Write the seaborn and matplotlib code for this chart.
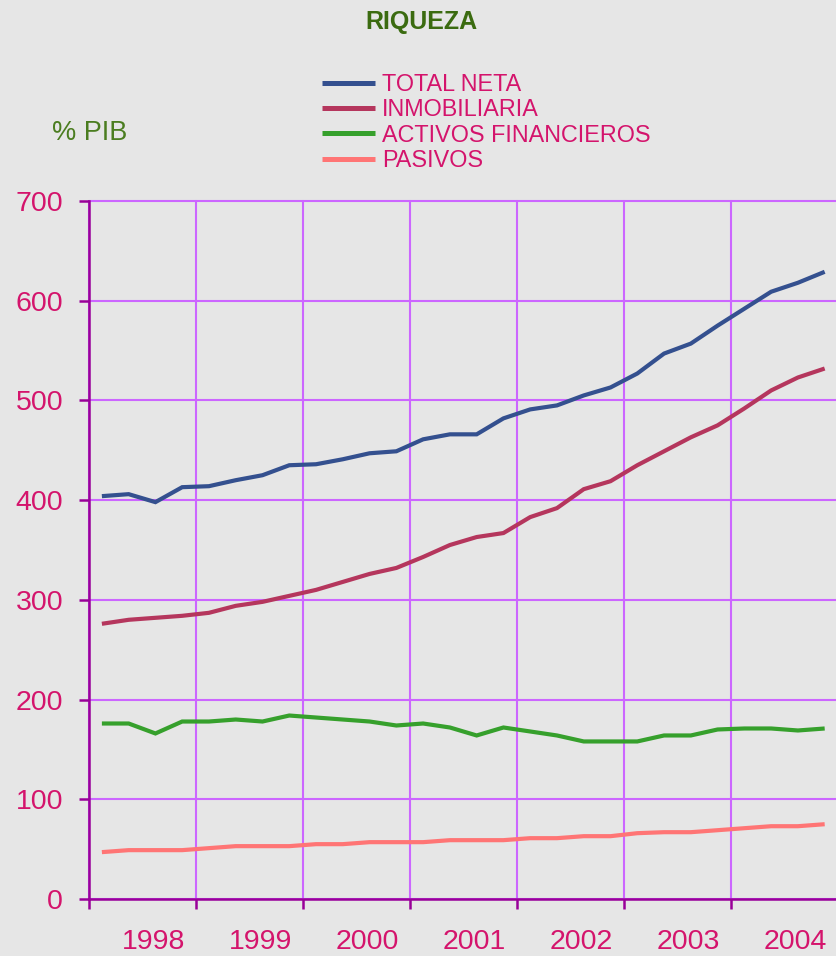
import numpy as np
import pandas as pd
import matplotlib
matplotlib.use("Agg")
import matplotlib.pyplot as plt
import seaborn as sns
from matplotlib.lines import Line2D

# Quarterly household wealth, % of GDP (1998Q1 .. 2004Q4)
years = [1998, 1999, 2000, 2001, 2002, 2003, 2004]
total_neta = [404, 406, 398, 413, 414, 420, 425, 435, 436, 441, 447, 449, 461, 466,
              466, 482, 491, 495, 505, 513, 527, 547, 557, 575, 592, 609, 618, 629]
inmobiliaria = [276, 280, 282, 284, 287, 294, 298, 304, 310, 318, 326, 332, 343, 355,
                363, 367, 383, 392, 411, 419, 435, 449, 463, 475, 492, 510, 523, 532]
activos_financieros = [176, 176, 166, 178, 178, 180, 178, 184, 182, 180, 178, 174, 176, 172,
                       164, 172, 168, 164, 158, 158, 158, 164, 164, 170, 171, 171, 169, 171]
pasivos = [47, 49, 49, 49, 51, 53, 53, 53, 55, 55, 57, 57, 57, 59,
           59, 59, 61, 61, 63, 63, 66, 67, 67, 69, 71, 73, 73, 75]

series_names = ["TOTAL NETA", "INMOBILIARIA", "ACTIVOS FINANCIEROS", "PASIVOS"]
series_values = [total_neta, inmobiliaria, activos_financieros, pasivos]
series_colors = ["#34508f", "#b5365d", "#36a02c", "#ff7575"]

BG = "#e6e6e6"
GRID = "#cc66ff"
SPINE = "#990099"
TXT = "#d4146c"

sns.set_theme(style="white")
plt.rcParams["font.family"] = ["Liberation Sans", "DejaVu Sans"]

n = len(total_neta)
periodo = np.arange(n)
df = pd.DataFrame({
    "periodo": np.tile(periodo, len(series_names)),
    "valor": np.concatenate(series_values),
    "serie": np.repeat(series_names, n),
})

W, H = 836, 956
fig = plt.figure(figsize=(W / 100, H / 100), dpi=100, facecolor=BG)
ax = fig.add_axes([88.5 / W, 1 - 899 / H, 1 - 88.5 / W, (899 - 201) / H])
ax.set_facecolor(BG)

sns.lineplot(data=df, x="periodo", y="valor", hue="serie", hue_order=series_names,
             palette=dict(zip(series_names, series_colors)), linewidth=3,
             ax=ax, legend=False, zorder=3)
for ln in ax.get_lines():
    ln.set_solid_capstyle("butt")
    ln.set_solid_joinstyle("miter")

ax.set_xlim(-0.5, -0.5 + (W - 88.5) / 26.77)
ax.set_ylim(0, 700)

# year boundaries as gridlines/ticks, labels offset within each year
ax.set_xticks([4 * k - 0.5 for k in range(len(years))])
ax.set_xticklabels([])
ax.set_xticks([4 * k + 1.92 for k in range(len(years))], minor=True)
ax.set_xticklabels([str(y) for y in years], minor=True)
ax.set_yticks(range(0, 701, 100))

ax.tick_params(axis="x", which="major", length=7.2, width=1.8, color=SPINE, direction="out")
ax.tick_params(axis="x", which="minor", length=0, pad=21.5, labelsize=20.5, labelcolor=TXT)
ax.tick_params(axis="y", length=7.2, width=1.8, color=SPINE, direction="out",
               pad=11, labelsize=20.5, labelcolor=TXT)
ax.tick_params(bottom=True, left=True)
ax.tick_params(axis="x", which="minor", bottom=True)

ax.grid(True, which="major", color=GRID, linewidth=1.5, zorder=1)
for gl in ax.get_ygridlines() + ax.get_xgridlines():
    gl.set_clip_on(False)
ax.set_axisbelow(True)

for side in ["top", "right"]:
    ax.spines[side].set_visible(False)
for side in ["left", "bottom"]:
    ax.spines[side].set_color(SPINE)
    ax.spines[side].set_linewidth(1.8)
    ax.spines[side].set_zorder(4)

ax.set_xlabel("")
ax.set_ylabel("")

handles = [Line2D([0], [0], color=c, lw=3.6, solid_capstyle="butt") for c in series_colors]
leg = fig.legend(handles, series_names, loc="upper left",
                 bbox_to_anchor=(322 / W, 1 - 73 / H), frameon=False,
                 fontsize=16.8, handlelength=2.25, handletextpad=0.33,
                 labelspacing=0.1, borderpad=0, borderaxespad=0)
for t in leg.get_texts():
    t.set_color(TXT)

fig.text(421 / W, 1 - 22 / H, "RIQUEZA", ha="center", va="center",
         fontsize=18, fontweight="bold", color="#3b6b10")
fig.text(52 / W, 1 - 133 / H, "% PIB", ha="left", va="center",
         fontsize=19.5, color="#4b7d20")

fig.savefig("out.png", dpi=100, facecolor=BG)
